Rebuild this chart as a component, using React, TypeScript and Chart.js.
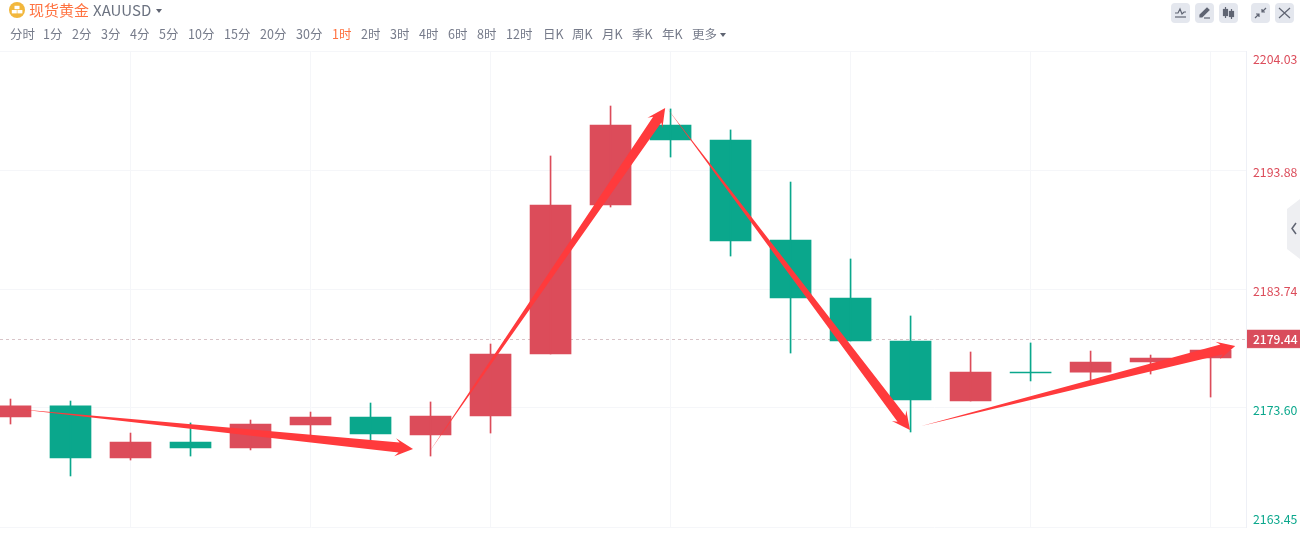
import React, { useEffect, useRef } from "react";
import { Chart, registerables } from "chart.js";

Chart.register(...registerables);

const opens = [2172.83, 2173.77, 2169.33, 2170.7, 2170.19, 2172.15, 2172.83, 2171.29, 2172.91, 2178.2, 2190.9, 2197.72, 2196.44, 2187.92, 2182.97, 2179.31, 2174.19, 2176.66, 2176.66, 2177.52, 2177.86];
const closes = [2173.77, 2169.33, 2170.7, 2170.19, 2172.23, 2172.83, 2171.38, 2172.91, 2178.2, 2190.9, 2197.72, 2196.44, 2187.83, 2182.97, 2179.31, 2174.28, 2176.66, 2176.58, 2177.52, 2177.86, 2178.54];
const highs = [2174.36, 2174.19, 2171.46, 2172.32, 2172.57, 2173.25, 2174.02, 2174.11, 2179.05, 2195.08, 2199.34, 2199.09, 2197.3, 2192.86, 2186.3, 2181.44, 2178.37, 2179.14, 2178.45, 2178.11, 2178.6];
const lows = [2172.23, 2167.8, 2169.16, 2169.5, 2170.02, 2171.29, 2170.78, 2169.5, 2171.46, 2178.2, 2190.73, 2194.99, 2186.55, 2178.28, 2179.31, 2171.55, 2174.19, 2175.9, 2175.98, 2176.49, 2174.53];

const priceTicks = [2204.03, 2193.88, 2183.74, 2173.6, 2163.45];
const timeGridIndexes = [2, 5, 8, 11, 14, 17, 20];
const lastPrice = 2179.44;

// Hand-drawn trend arrows: [start index, start price, end index, end price]
const arrowSegments = [
  [0.108, 2173.51, 6.708, 2170.1],
  [6.99, 2169.93, 10.91, 2199.17],
  [10.94, 2199.17, 14.99, 2171.72],
  [15.18, 2172.06, 20.41, 2178.88],
];

const periods: [string, number][] = [
  ["分时", 10], ["1分", 43], ["2分", 72], ["3分", 101], ["4分", 130], ["5分", 159],
  ["10分", 188], ["15分", 224], ["20分", 260], ["30分", 296], ["1时", 332], ["2时", 361],
  ["3时", 390], ["4时", 419], ["6时", 448], ["8时", 477], ["12时", 506], ["日K", 543],
  ["周K", 572], ["月K", 602], ["季K", 632], ["年K", 662], ["更多", 692],
];
const activePeriod = "1时";

const RED = "#dc4c5a";
const GREEN = "#0aa78c";
const ARROW = "#ff3a3c";
const FONT = '"Noto Sans CJK SC", "Noto Sans", sans-serif';

const overlayPlugin = {
  id: "overlay",
  beforeDatasetsDraw(chart: any) {
    const { ctx, chartArea, scales } = chart;
    const y = Math.floor(scales.y.getPixelForValue(lastPrice)) + 0.5;
    ctx.save();
    ctx.strokeStyle = "#d8c4c8";
    ctx.lineWidth = 1;
    ctx.setLineDash([3, 3]);
    ctx.beginPath();
    ctx.moveTo(chartArea.left, y);
    ctx.lineTo(chartArea.right, y);
    ctx.stroke();
    ctx.restore();
  },
  afterDatasetsDraw(chart: any) {
    const { ctx, chartArea, scales } = chart;
    ctx.save();
    ctx.fillStyle = ARROW;
    for (const [i0, p0, i1, p1] of arrowSegments) {
      const ax = scales.x.getPixelForValue(i0);
      const ay = scales.y.getPixelForValue(p0);
      const bx = scales.x.getPixelForValue(i1);
      const by = scales.y.getPixelForValue(p1);
      const len = Math.hypot(bx - ax, by - ay);
      const ux = (bx - ax) / len;
      const uy = (by - ay) / len;
      const nx = -uy;
      const ny = ux;
      const pt = (back: number, side: number) => [bx - ux * back + nx * side, by - uy * back + ny * side];
      const poly = [[ax, ay], pt(14, 5), pt(18, 9), [bx, by], pt(18, -9), pt(14, -5)];
      ctx.beginPath();
      poly.forEach(([x, yy], k) => (k ? ctx.lineTo(x, yy) : ctx.moveTo(x, yy)));
      ctx.closePath();
      ctx.fill();
    }
    // price axis labels
    ctx.font = `12.3px ${FONT}`;
    ctx.textBaseline = "middle";
    ctx.textAlign = "left";
    for (const t of priceTicks) {
      const py = scales.y.getPixelForValue(t);
      const ly = Math.max(chartArea.top + 8, Math.min(chartArea.bottom - 8, py + 2.5));
      ctx.fillStyle = t > lastPrice ? RED : GREEN;
      ctx.fillText(t.toFixed(2), chartArea.right + 7, ly);
    }
    // current price tag
    const cy = scales.y.getPixelForValue(lastPrice);
    ctx.fillStyle = "#f0c3c8";
    ctx.fillRect(chartArea.right + 1, cy - 10, 53, 19);
    ctx.fillStyle = "#d94d5c";
    ctx.fillRect(chartArea.right + 1, cy - 9.5, 53, 18);
    ctx.fillStyle = "#ffffff";
    ctx.font = `500 12px ${FONT}`;
    ctx.fillText(lastPrice.toFixed(2), chartArea.right + 7, cy);
    ctx.restore();
  },
};

const btn: React.CSSProperties = {
  position: "absolute", top: 3, width: 19, height: 20, background: "#e4e7ee", borderRadius: 4,
};

function Icon({ x, children }: { x: number; children: React.ReactNode }) {
  return (
    <div style={{ ...btn, left: x }}>
      <svg width="19" height="20" viewBox="0 0 19 20" fill="none" stroke="#5f6472" strokeWidth="1.2">
        {children}
      </svg>
    </div>
  );
}

export default function App() {
  const ref = useRef<HTMLCanvasElement>(null);
  useEffect(() => {
    const xy = (a: number[], b: number[]) => a.map((v, i) => ({ x: i, y: [v, b[i]] }));
    const colors = opens.map((o, i) => (closes[i] >= o ? RED : GREEN));
    const chart = new Chart(ref.current!, {
      type: "bar",
      data: {
        datasets: [
          { data: xy(lows, highs) as any, backgroundColor: colors, barThickness: 1, grouped: false } as any,
          { data: xy(opens, closes) as any, backgroundColor: colors, barThickness: 41, grouped: false, minBarLength: 1 } as any,
        ],
      },
      options: {
        responsive: false,
        animation: false,
        layout: { padding: { top: 51, bottom: 20, left: 0, right: 0 } },
        plugins: { legend: { display: false }, tooltip: { enabled: false } },
        scales: {
          x: {
            type: "linear",
            offset: false,
            min: -0.175,
            max: 20.59,
            afterBuildTicks: (s: any) => { s.ticks = timeGridIndexes.map((value) => ({ value })); },
            ticks: { display: false },
            grid: { color: "#f5f6f9", drawTicks: false, offset: false },
            border: { display: false },
          },
          y: {
            position: "right",
            min: priceTicks[4],
            max: priceTicks[0],
            afterBuildTicks: (s: any) => { s.ticks = priceTicks.map((value) => ({ value })); },
            afterFit: (s: any) => { s.width = 54; },
            ticks: { display: false },
            grid: { color: "#f5f6f9", drawTicks: false },
            border: { color: "#eef0f6" },
          },
        },
      } as any,
      plugins: [overlayPlugin as any],
    });
    return () => chart.destroy();
  }, []);

  return (
    <div style={{ position: "absolute", left: 0, top: 0, width: 1300, height: 547, background: "#fff", overflow: "hidden", fontFamily: FONT }}>
      <canvas ref={ref} width={1300} height={547} style={{ display: "block", position: "absolute", left: 0, top: 0 }} />
      <svg width="18" height="18" style={{ position: "absolute", left: 8, top: 1 }}>
        <circle cx="9" cy="9" r="8" fill="#f2b73c" />
        <rect x="6.5" y="4.8" width="5" height="3.4" fill="#fff" />
        <rect x="3.8" y="9" width="5" height="3.4" fill="#fff" />
        <rect x="9.4" y="9" width="5" height="3.4" fill="#fff" />
      </svg>
      <span style={{ position: "absolute", left: 29, top: 0, fontSize: 15, lineHeight: "20px", color: "#ff7240" }}>现货黄金</span>
      <span style={{ position: "absolute", left: 93, top: 0, fontSize: 15, lineHeight: "20px", color: "#6b7280" }}>XAUUSD</span>
      <div style={{ position: "absolute", left: 156, top: 9, borderLeft: "3.5px solid transparent", borderRight: "3.5px solid transparent", borderTop: "4px solid #5f6472" }} />
      {periods.map(([label, x]) => (
        <span key={label} style={{ position: "absolute", left: x, top: 25, fontSize: 12.5, lineHeight: "18px", whiteSpace: "nowrap", color: label === activePeriod ? "#ff7240" : "#767b8a" }}>{label}</span>
      ))}
      <div style={{ position: "absolute", left: 720, top: 33, borderLeft: "3.5px solid transparent", borderRight: "3.5px solid transparent", borderTop: "4px solid #5f6472" }} />
      <Icon x={1171}>
        <path d="M4 10 L7 10 L9 6 L11 11 L13 9 L15 9" />
        <path d="M4 14 H15" />
      </Icon>
      <Icon x={1195}>
        <path d="M5 12 L12 5 L14 7 L7 14 L5 14 Z" fill="#5f6472" />
        <path d="M9 15 H15" />
      </Icon>
      <Icon x={1219}>
        <path d="M6.5 4 V15 M12.5 6 V16" />
        <rect x="4.5" y="6.5" width="4" height="6" fill="#5f6472" />
        <rect x="10.5" y="8.5" width="4" height="5" fill="#5f6472" />
      </Icon>
      <Icon x={1251}>
        <path d="M15 5 L11 9 M11 6 V9 H14 M4 15 L8 11 M8 14 V11 H5" />
      </Icon>
      <Icon x={1275}>
        <path d="M4 5 L15 15 M15 5 L4 15" />
      </Icon>
      <svg width="13" height="60" style={{ position: "absolute", left: 1287, top: 199 }}>
        <path d="M0 10 L13 0 V60 L0 50 Z" fill="#eeeff2" />
        <path d="M9 24 L5 29.5 L9 35" stroke="#5f6472" strokeWidth="1.5" fill="none" />
      </svg>
    </div>
  );
}
